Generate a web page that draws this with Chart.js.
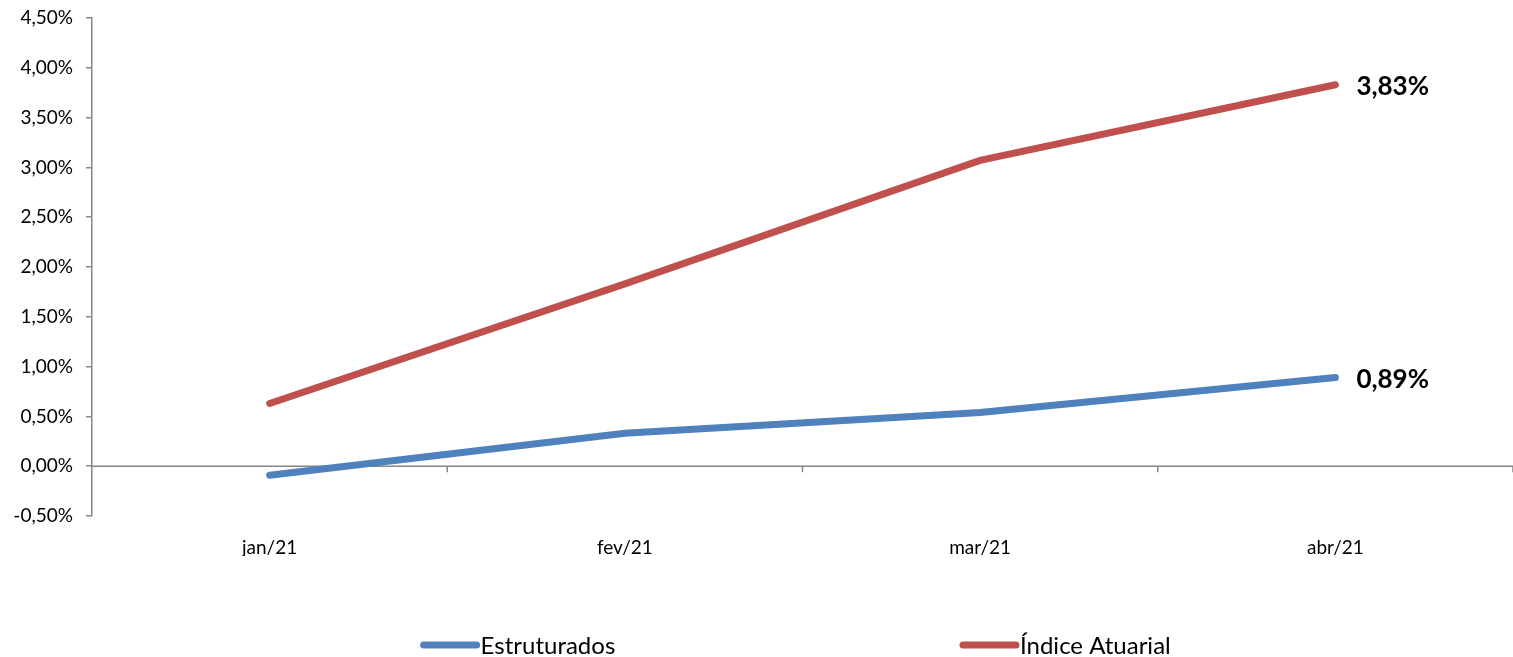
<!DOCTYPE html>
<html>
<head>
<meta charset="utf-8">
<script src="https://cdn.jsdelivr.net/npm/chart.js@4/dist/chart.umd.min.js"></script>
<style>
  html, body { margin: 0; padding: 0; background: #fff; }
  #wrap { width: 1513px; height: 657px; }
</style>
</head>
<body>
<div id="wrap"><canvas id="chart" width="1513" height="657"></canvas></div>
<script>
// Chart data
const months = ['jan/21', 'fev/21', 'mar/21', 'abr/21'];
const estruturados = [-0.09, 0.33, 0.54, 0.89];
const indiceAtuarial = [0.63, 1.83, 3.07, 3.83];
const seriesNames = ['Estruturados', 'Índice Atuarial'];
const seriesColors = ['#4F81BD', '#C0504D'];
const yMin = -0.5, yMax = 4.5, yStep = 0.5;

const FONT = 'Lato, "Open Sans", sans-serif';
const AXIS_GREY = '#868686';

function pct(v) {
    return v.toFixed(2).replace('.', ',') + '%';
}

// zero line with category tick marks (Excel style axis crossing at 0)
const zeroAxis = {
    id: 'zeroAxis',
    beforeDatasetsDraw(chart) {
        const { ctx, chartArea, scales } = chart;
        const y0 = scales.y.getPixelForValue(0);
        ctx.save();
        ctx.strokeStyle = AXIS_GREY;
        ctx.lineWidth = 1.5;
        ctx.beginPath();
        ctx.moveTo(chartArea.left, y0);
        ctx.lineTo(chartArea.right, y0);
        const n = chart.data.labels.length;
        for (let i = 1; i <= n; i++) {
            const x = scales.x.getPixelForValue(i - 0.5);
            ctx.moveTo(x, y0);
            ctx.lineTo(x, y0 + 6);
        }
        ctx.stroke();
        ctx.restore();
    }
};

// bold value label after last point of each series
const endLabels = {
    id: 'endLabels',
    afterDatasetsDraw(chart) {
        const { ctx } = chart;
        ctx.save();
        ctx.font = 'bold 26px ' + FONT;
        ctx.fillStyle = '#000';
        ctx.textAlign = 'left';
        ctx.textBaseline = 'middle';
        chart.data.datasets.forEach((ds, i) => {
            const meta = chart.getDatasetMeta(i);
            const last = meta.data[meta.data.length - 1];
            ctx.fillText(pct(ds.data[ds.data.length - 1]), last.x + 21, last.y + 2);
        });
        ctx.restore();
    }
};

// legend drawn like the Excel one: widely spaced line samples
const lineLegend = {
    id: 'lineLegend',
    afterDraw(chart) {
        const { ctx } = chart;
        const starts = [0.278, 0.6345];
        const y = chart.height - 12;
        ctx.save();
        ctx.font = '24px ' + FONT;
        ctx.textBaseline = 'middle';
        ctx.lineCap = 'round';
        chart.data.datasets.forEach((ds, i) => {
            const x = chart.width * starts[i];
            ctx.strokeStyle = ds.borderColor;
            ctx.lineWidth = 7;
            ctx.beginPath();
            ctx.moveTo(x + 3, y);
            ctx.lineTo(x + 56, y);
            ctx.stroke();
            ctx.fillStyle = '#000';
            ctx.fillText(ds.label, x + 60, y + 1);
        });
        ctx.restore();
    }
};

new Chart(document.getElementById('chart'), {
    type: 'line',
    data: {
        labels: months,
        datasets: [
            {
                label: seriesNames[0],
                data: estruturados,
                borderColor: seriesColors[0],
                backgroundColor: seriesColors[0],
                borderWidth: 7,
                borderCapStyle: 'round',
                pointRadius: 0,
                tension: 0
            },
            {
                label: seriesNames[1],
                data: indiceAtuarial,
                borderColor: seriesColors[1],
                backgroundColor: seriesColors[1],
                borderWidth: 7,
                borderCapStyle: 'round',
                pointRadius: 0,
                tension: 0
            }
        ]
    },
    options: {
        responsive: false,
        animation: false,
        layout: {
            padding: { top: 18, right: 0, bottom: 101, left: 0 }
        },
        plugins: {
            legend: { display: false },
            tooltip: { enabled: false }
        },
        scales: {
            x: {
                offset: true,
                grid: { display: false, drawTicks: false },
                border: { display: false },
                ticks: {
                    padding: 20,
                    color: '#000',
                    font: { family: FONT, size: 19 }
                },
                afterFit: function(scale) { scale.height = 40; }
            },
            y: {
                min: yMin,
                max: yMax,
                grid: {
                    drawOnChartArea: false,
                    tickLength: 6,
                    color: AXIS_GREY,
                    lineWidth: 1.5
                },
                border: { color: AXIS_GREY, width: 1.5 },
                ticks: {
                    stepSize: yStep,
                    padding: 13,
                    color: '#000',
                    font: { family: FONT, size: 19 },
                    callback: function(value) { return pct(value); }
                },
                afterFit: function(scale) {
                    scale.width = 92;
                    scale.paddingTop = 0;
                    scale.paddingBottom = 0;
                }
            }
        }
    },
    plugins: [zeroAxis, endLabels, lineLegend]
});
</script>
</body>
</html>
